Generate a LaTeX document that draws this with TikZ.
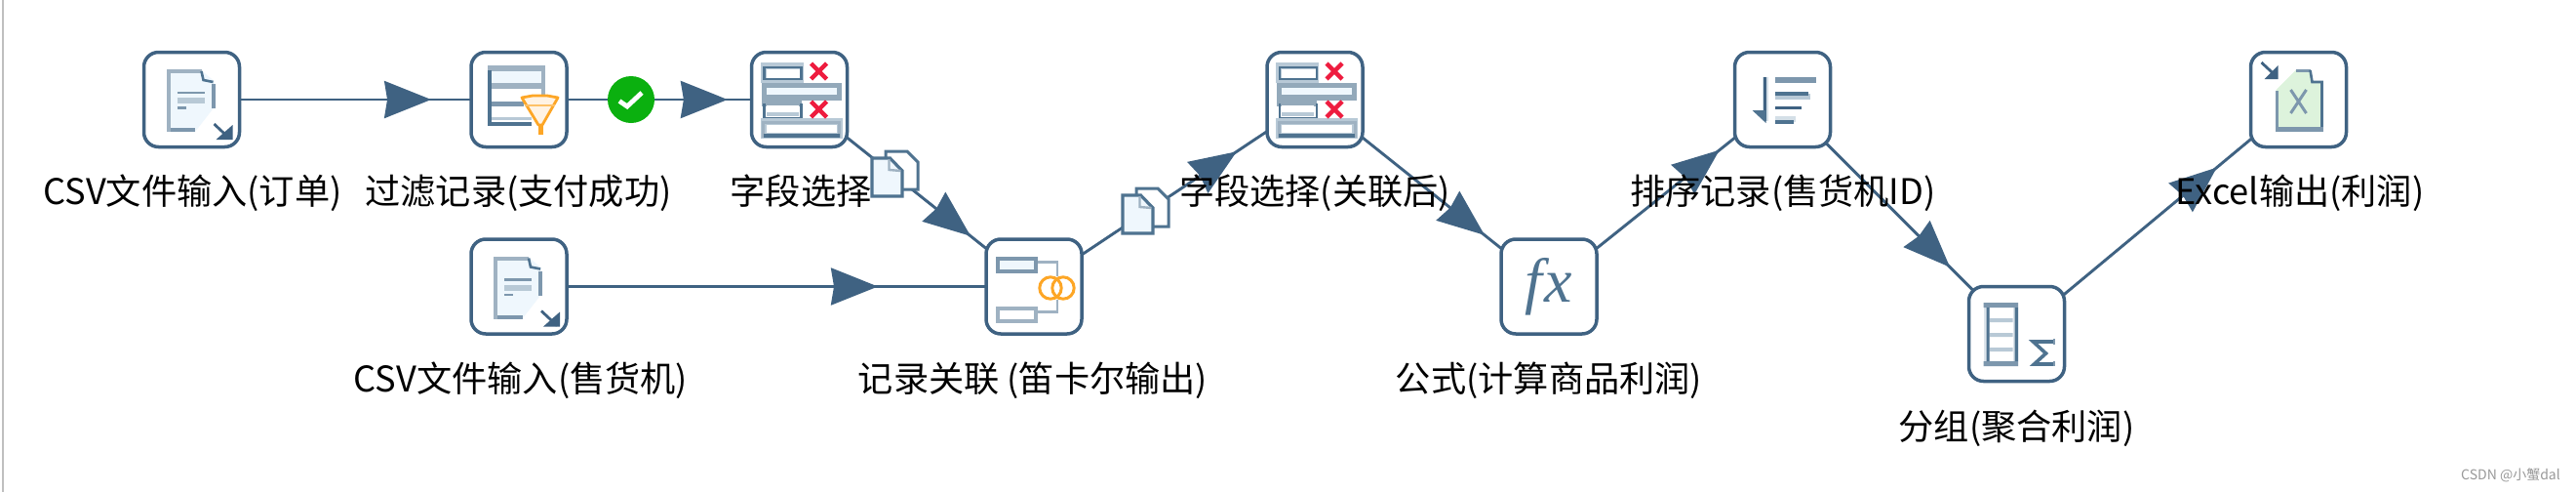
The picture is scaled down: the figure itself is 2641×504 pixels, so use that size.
\documentclass[tikz,border=0pt]{standalone}
\usepackage{fontspec}
\setmainfont{Noto Sans CJK SC}
\newfontfamily\fxfont{Liberation Serif}
\usetikzlibrary{arrows.meta,decorations.markings,backgrounds}
\definecolor{linkc}{HTML}{3F6282}
\definecolor{darkc}{HTML}{4F7390}
\definecolor{midc}{HTML}{7D97AD}
\definecolor{softc}{HTML}{9FB2C2}
\definecolor{paleb}{HTML}{B8C9D6}
\definecolor{docfill}{HTML}{EFF7FD}
\definecolor{orangec}{HTML}{FDA626}
\definecolor{orangef}{HTML}{FFF3E4}
\definecolor{redc}{HTML}{EE1C3F}
\definecolor{greenc}{HTML}{0BB00F}
\definecolor{xlfill}{HTML}{DDF3DC}
\tikzset{
  x=0.5pt,y=-0.5pt,
  stepbox/.style={draw=linkc,line width=1.75pt,rounded corners=7.5pt,fill=white,minimum width=49pt,minimum height=48.5pt,inner sep=0pt},
  steplabel/.style={text=black,font=\fontsize{18.1}{20}\selectfont,inner sep=0pt,text height=14pt,text depth=4pt},
  link/.style={draw=linkc,line width=1.45pt},
  headat/.style={postaction={decorate},decoration={markings,mark=at position #1 with {\arrow{Stealth[length=24pt,width=19pt,inset=1.5pt,linkc]}}}},
  csvicon/.pic={
    \fill[docfill] (-25,-30)--(10,-30)--(23,-19)--(23,8)--(3.5,33)--(-25,33)--cycle;
    \draw[softc,line width=2pt] (-24,33)--(-24,-29)--(10,-29);
    \draw[midc,line width=2pt] (-22,31)--(3.5,31) (22,-16)--(22,9);
    \draw[darkc,line width=1.3pt] (10,-29)--(12,-20)--(22,-18);
    \draw[midc,line width=1.3pt] (-15,-7)--(13,-7) (-15,8.5)--(-6,8.5);
    \draw[paleb,line width=3pt] (-15,1)--(13,1);
    \draw[linkc,line width=1.4pt] (23,25)--(39,40);
    \fill[linkc] (25,41)--(42,41)--(42,26)--cycle;
  },
  filtericon/.pic={
    \fill[docfill] (-30,-30)--(25,-30)--(25,-17)--(-30,-17)--cycle;
    \fill[softc] (-32,-35) rectangle (27,-29);
    \fill[softc] (-30,-17) rectangle (25,-11);
    \fill[midc] (-30,1.5) rectangle (5,6.5);
    \fill[paleb] (-30,18) rectangle (13,21);
    \draw[darkc,line width=2pt] (-30,-30)--(-30,25)--(13,25);
    \draw[softc,line width=2pt] (25,-30)--(25,0);
    \draw[orangec,line width=1.4pt,fill=orangef,line join=round] (3,-2)--(14,-4)--(29,-4)--(40,-2)--(24,26)--(20,26)--cycle;
    \draw[orangec!70,line width=1.4pt] (6,6)--(37,6);
    \draw[orangec,line width=2.5pt] (22,26)--(22,36);
  },
  selecticon/.pic={
    \fill[paleb] (-40,-38) rectangle (4,-17);
    \fill[white] (-34,-31) rectangle (1,-22);
    \draw[darkc,line width=1.3pt] (-36,-33) rectangle (2,-21);
    \fill[softc!85!darkc] (-39,-17) rectangle (43,1);
    \fill[docfill] (-34,-12) rectangle (38,-5);
    \fill[softc!85!darkc] (-39,-1) rectangle (2,7);
    \fill[white] (-34,6) rectangle (-1,14);
    \fill[paleb] (-34,13) rectangle (-1,17);
    \draw[darkc,line width=1.3pt] (-36,4)--(-36,19)--(2,19)--(2,4);
    \fill[paleb] (-40,19) rectangle (44,40);
    \fill[white] (-34,26) rectangle (38,34);
    \draw[softc,line width=1.5pt] (-37,23) rectangle (41,37);
    \draw[darkc,line width=2pt] (-37,37)--(41,37);
    \draw[redc,line width=2.2pt] (12,-37)--(28,-21) (28,-37)--(12,-21) (12,2)--(28,18) (28,2)--(12,18);
  },
  joinicon/.pic={
    \draw[softc,line width=1.3pt] (3,-25)--(24,-25)--(24,-11) (3,26)--(24,26)--(24,13);
    \draw[midc,line width=2pt,fill=docfill] (-37,-29) rectangle (2,-16);
    \draw[softc,line width=2pt,fill=white] (-37,22) rectangle (2,35);
    \draw[orangec,line width=1.5pt] (17,1.5) circle[radius=5.6pt] (30,1.5) circle[radius=5.6pt];
  },
  sorticon/.pic={
    \draw[paleb!60,line width=3pt] (-18,-23)--(-18,22);
    \draw[linkc,line width=1.5pt] (-18,-23)--(-18,22);
    \fill[darkc] (-31,11)--(-17,11)--(-17,24)--cycle;
    \draw[midc,line width=2.6pt] (-7.5,-20)--(34,-20);
    \draw[paleb,line width=3pt] (-7.5,-3)--(28.5,-3);
    \draw[darkc,line width=1.6pt] (-7.5,-6)--(26,-6);
    \draw[linkc,line width=1.6pt] (-7.5,8.5)--(19,8.5);
    \draw[paleb!60,line width=2.6pt] (-7.5,20)--(13,20);
    \draw[darkc,line width=1.6pt] (-7.5,23)--(11,23);
  },
  groupicon/.pic={
    \fill[paleb!50] (-34,-32) rectangle (1.5,33);
    \fill[white] (-28,-27) rectangle (-4,28);
    \fill[paleb] (-28,-16) rectangle (-4,-12) (-28,-1) rectangle (-4,3) (-28,14) rectangle (-4,18);
    \fill[midc] (-34,-32) rectangle (1.5,-27) (-34,28) rectangle (1.5,33);
    \fill[darkc] (-31,-27) rectangle (-28,28) (-2,-27) rectangle (1.5,28);
    \draw[darkc,line width=1.8pt,line join=miter] (38,8)--(17,8)--(30,20)--(18,31)--(38,31);
    \draw[midc,line width=1pt] (38,5)--(38,11) (38,28)--(38,33);
  },
  excelicon/.pic={
    \fill[xlfill] (-23,33)--(-23,-10)--(-3,-30)--(12,-30)--(14,-18)--(24,-18)--(24,33)--cycle;
    \draw[midc,line width=1.5pt] (-3,-30)--(12,-30);
    \draw[darkc,line width=1.3pt] (12,-30)--(14,-18)--(24,-18)--(24,30);
    \draw[midc,line width=1.4pt] (-22,-9)--(-22,30);
    \fill[midc] (-24,28) rectangle (25,33);
    \draw[midc,line width=1.5pt] (-8,-10)--(8,14) (8,-10)--(-8,14);
    \draw[linkc,line width=1.4pt] (-38,-38)--(-23,-24);
    \fill[linkc] (-35,-21)--(-21,-21)--(-21,-35)--cycle;
  },
  copyicon/.pic={
    \draw[darkc,line width=1.5pt,fill=white] (-9.5,-23)--(12.5,-23)--(23.5,-12)--(23.5,16)--(-9.5,16)--cycle;
    \draw[darkc,line width=1.6pt,fill=docfill] (-23.5,-16)--(-5,-16)--(7.5,-3)--(7.5,23)--(-23.5,23)--cycle;
    \draw[softc,line width=1.2pt] (-6,-15)--(-6,-4)--(6,-3);
  },
}
\begin{document}
\begin{tikzpicture}
\useasboundingbox (0,0) rectangle (2641,504);
% steps
\node[stepbox] (csva) at (196.5,102) {};
\node[stepbox] (filt) at (532,102) {};
\node[stepbox] (sela) at (819.5,102) {};
\node[stepbox] (csvb) at (532,293.5) {};
\node[stepbox] (join) at (1060,293.5) {};
\node[stepbox] (selb) at (1348,102) {};
\node[stepbox,text=darkc,font=\fxfont\itshape\fontsize{32}{32}\selectfont] (form) at (1588,293.5) {f\kern1pt x};
\node[stepbox] (sort) at (1827.5,102) {};
\node[stepbox] (grou) at (2067.5,342) {};
\node[stepbox] (exce) at (2356.5,102) {};
% connectors
\begin{scope}[on background layer]
\fill[white] (0,0) rectangle (2641,504);
\fill[black!25] (2,0) rectangle (4,504);
\draw[link,headat=.732] (csva.center) -- (filt.center);
\draw[link,headat=.744] (filt.center) -- (sela.center);
\draw[link,headat=.697] (csvb.center) -- (join.center);
\draw[link,headat=.73] (sela.center) -- (join.center);
\draw[link,headat=.722] (join.center) -- (selb.center);
\draw[link,headat=.725] (selb.center) -- (form.center);
\draw[link,headat=.73] (form.center) -- (sort.center);
\draw[link,headat=.715] (sort.center) -- (grou.center);
\draw[link,headat=.71] (grou.center) -- (exce.center);
\end{scope}
% icons
\pic at (csva.center) {csvicon};
\pic at (csvb.center) {csvicon};
\pic at (filt.center) {filtericon};
\pic at (sela.center) {selecticon};
\pic at (selb.center) {selecticon};
\pic at (join.center) {joinicon};
\pic at (sort.center) {sorticon};
\pic at (grou.center) {groupicon};
\pic at (exce.center) {excelicon};
% hop marks
\node[circle,fill=greenc,minimum size=24pt,inner sep=0pt] (okay) at (647,102) {};
\draw[white,line width=2.4pt] (635,103.5)--(643,109)--(658,95);
\pic at (917.5,178) {copyicon};
\pic at (1174.5,216) {copyicon};
% labels
\node[steplabel] (la) at (197.5,199) {CSV文件输入(订单)};
\node[steplabel] (lb) at (531.5,199) {过滤记录(支付成功)};
\node[steplabel] (lc) at (821,199) {字段选择};
\node[steplabel] (ld) at (534,391) {CSV文件输入(售货机)};
\node[steplabel] (le) at (1059,391) {记录关联 (笛卡尔输出)};
\node[steplabel] (lf) at (1348,199) {字段选择(关联后)};
\node[steplabel] (lg) at (1588,391) {公式(计算商品利润)};
\node[steplabel] (lh) at (1828,199) {排序记录(售货机ID)};
\node[steplabel] (li) at (2358,199) {Excel输出(利润)};
\node[steplabel] (lj) at (2067.5,440) {分组(聚合利润)};
\node[text=black!40,font=\fontsize{7}{8}\selectfont,inner sep=0pt] (mark) at (2574,487) {CSDN @小蟹dal};
\end{tikzpicture}
\end{document}
